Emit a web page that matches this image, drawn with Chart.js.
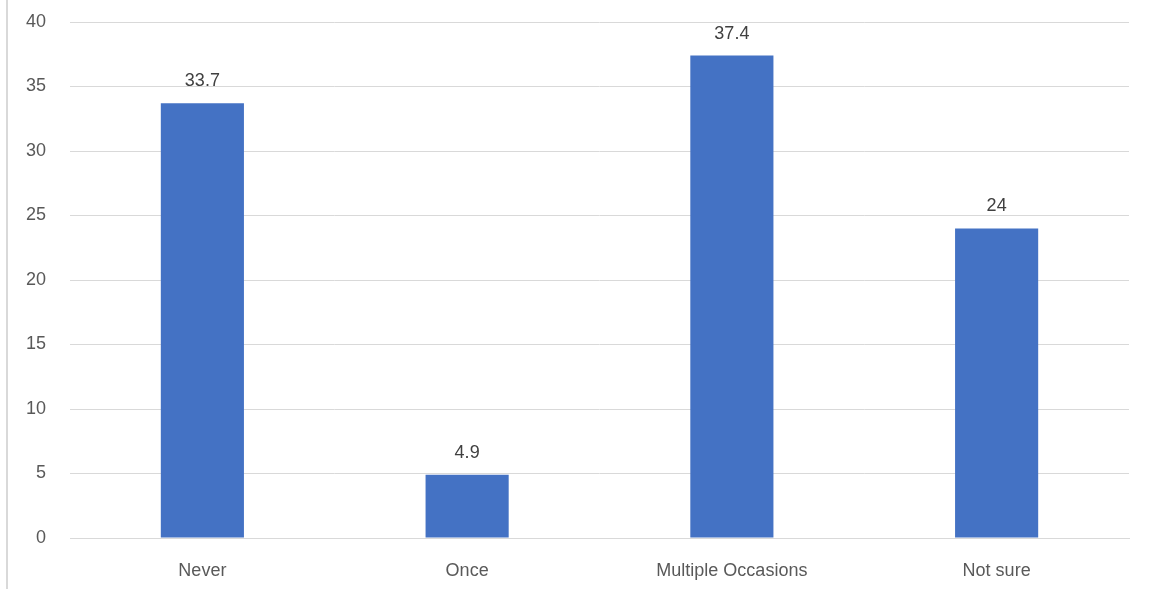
<!DOCTYPE html>
<html>
<head>
<meta charset="utf-8">
<script src="https://cdn.jsdelivr.net/npm/chart.js@4.4.0/dist/chart.umd.min.js"></script>
<style>
html,body{margin:0;padding:0;background:#fff;}
#wrap{position:relative;width:1152px;height:589px;}
#edge{position:absolute;left:6px;top:0;width:2px;height:589px;background:#d9d9d9;}
canvas{position:absolute;left:0;top:0;}
</style>
</head>
<body>
<div id="wrap"><div id="edge"></div><canvas id="c" width="1152" height="589"></canvas></div>
<script>
const categories = ["Never", "Once", "Multiple Occasions", "Not sure"];
const values = [33.7, 4.9, 37.4, 24];
const valueLabels = ["33.7", "4.9", "37.4", "24"];
const yMin = 0, yMax = 40, yStep = 5;

const FONT = "'Liberation Sans', 'DejaVu Sans', sans-serif";

const dataLabels = {
  id: 'dataLabels',
  afterDatasetsDraw(chart) {
    const ctx = chart.ctx;
    const meta = chart.getDatasetMeta(0);
    ctx.save();
    ctx.font = "18px " + FONT;
    ctx.fillStyle = "#404040";
    ctx.textAlign = "center";
    ctx.textBaseline = "alphabetic";
    meta.data.forEach((bar, i) => {
      ctx.fillText(valueLabels[i], bar.x, bar.y - 17);
    });
    ctx.restore();
  }
};

new Chart(document.getElementById('c'), {
  type: 'bar',
  data: {
    labels: categories,
    datasets: [{
      data: values,
      backgroundColor: '#4472c4',
      borderWidth: 0,
      categoryPercentage: 1,
      barPercentage: 0.314
    }]
  },
  options: {
    responsive: false,
    animation: false,
    layout: { padding: { left: 0, right: 23, top: 22, bottom: 0 } },
    plugins: { legend: { display: false }, tooltip: { enabled: false } },
    scales: {
      x: {
        grid: { display: false, drawTicks: false },
        border: { display: true, color: '#d9d9d9', width: 1 },
        ticks: { color: '#595959', font: { size: 18, family: FONT }, padding: 22 },
        afterFit(s) { s.height = 51; }
      },
      y: {
        min: yMin, max: yMax,
        grid: { color: '#d9d9d9', lineWidth: 1, drawTicks: false },
        border: { display: false },
        ticks: { stepSize: yStep, color: '#595959', font: { size: 18, family: FONT }, padding: 24 },
        afterFit(s) { s.width = 70; s.paddingTop = 0; }
      }
    }
  },
  plugins: [dataLabels]
});
</script>
</body>
</html>
